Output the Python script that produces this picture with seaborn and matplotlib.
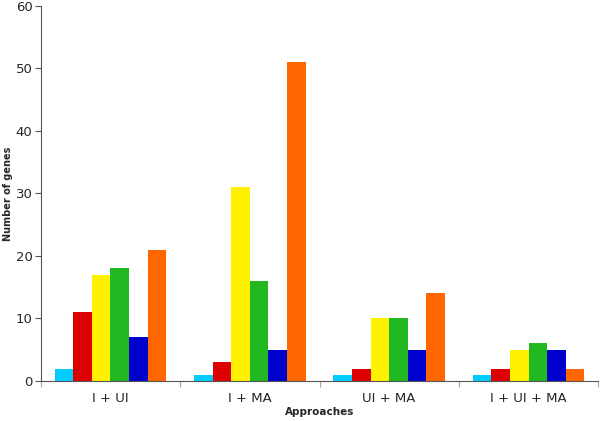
import pandas as pd
import matplotlib.pyplot as plt
import seaborn as sns
from matplotlib.ticker import FixedLocator

# données
approaches = ["I + UI", "I + MA", "UI + MA", "I + UI + MA"]
series = ["s1", "s2", "s3", "s4", "s5", "s6"]
s1 = [2, 1, 1, 1]
s2 = [11, 3, 2, 2]
s3 = [17, 31, 10, 5]
s4 = [18, 16, 10, 6]
s5 = [7, 5, 5, 5]
s6 = [21, 51, 14, 2]
colors = ["#00CCFF", "#DD0000", "#FFF200", "#22B822", "#0000CC", "#FF6600"]

rows = []
for name, vals in zip(series, [s1, s2, s3, s4, s5, s6]):
    for a, v in zip(approaches, vals):
        rows.append({"approach": a, "serie": name, "genes": v})
df = pd.DataFrame(rows)

sns.set_style("white")
plt.rcParams["font.family"] = ["DejaVu Sans"]

fig = plt.figure(figsize=(6, 4.21), dpi=100)
ax = fig.add_axes([0.068, 0.095, 0.929, 0.891])

sns.barplot(data=df, x="approach", y="genes", hue="serie", order=approaches,
            hue_order=series, palette=colors, width=0.8, gap=0,
            saturation=1, linewidth=0, legend=False, ax=ax)

ax.set_ylim(0, 60)
ax.set_xlim(-0.5, 3.5)
ax.set_yticks(range(0, 61, 10))
ax.tick_params(axis="y", labelsize=9.5, length=4, width=0.8, color="#555555",
               direction="out", left=True, pad=2)
ax.tick_params(axis="x", which="major", length=0, labelsize=9.5, pad=8)
ax.xaxis.set_minor_locator(FixedLocator([-0.5, 0.5, 1.5, 2.5, 3.5]))
ax.tick_params(axis="x", which="minor", length=4, width=0.8, color="#aaaaaa",
               bottom=True, direction="out")

for side in ["top", "right"]:
    ax.spines[side].set_visible(False)
for side in ["left", "bottom"]:
    ax.spines[side].set_color("#555555")
    ax.spines[side].set_linewidth(0.8)

ax.set_xlabel("Approaches", fontsize=7.5, fontweight="bold")
ax.set_ylabel("Number of genes", fontsize=7, fontweight="bold")
ax.xaxis.set_label_coords(0.5, -0.068)
ax.yaxis.set_label_coords(-0.05, 0.5)

fig.savefig("out.png", dpi=100)
